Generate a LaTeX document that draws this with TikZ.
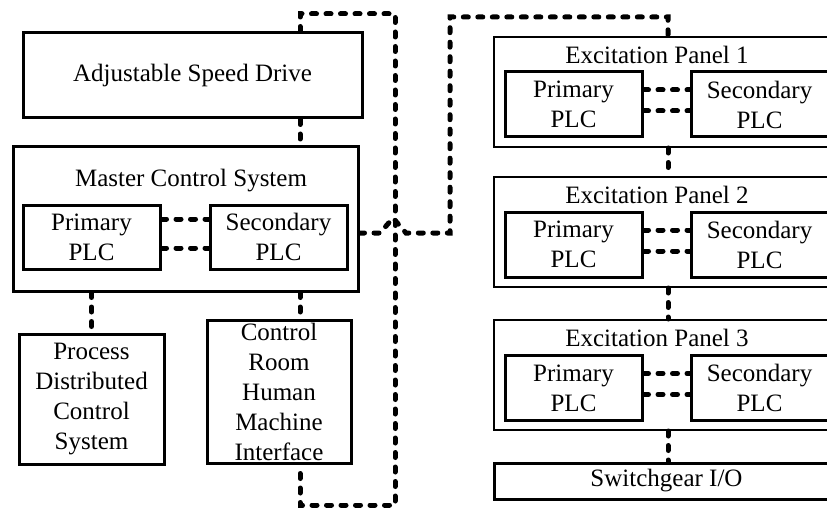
\documentclass[tikz,border=0pt]{standalone}
\usepackage{fontspec}
\setmainfont{Liberation Serif}
\begin{document}
\begin{tikzpicture}[x=1pt,y=-1pt,
  box/.style={draw,line width=3pt,inner sep=0pt,align=center,font=\fontsize{25}{30}\selectfont},
  panel/.style={draw,line width=2pt,inner sep=0pt},
  lbl/.style={inner sep=0pt,font=\fontsize{25}{30}\selectfont},
  plc/.style={box,minimum width=137pt,minimum height=65pt},
  link/.style={line width=5pt,dash pattern=on 5pt off 9.5pt,line cap=round}]
\useasboundingbox (0,0) rectangle (827,508);
\clip (0,0) rectangle (827,508);

% left column
\node[box,minimum width=339pt,minimum height=85pt] (asd) at (192.5,75.5) {Adjustable Speed Drive};
\node[panel,line width=3pt,minimum width=345pt,minimum height=144pt] (mcs) at (185.5,219) {};
\node[lbl] (mcst) at (191,181) {Master Control System};
\node[plc,minimum height=64pt] (mp) at (91.5,237) {Primary\\PLC};
\node[plc,minimum height=64pt] (ms) at (278.5,237) {Secondary\\PLC};
\node[box,minimum width=145pt,minimum height=130pt] (dcs) at (91.5,399) {Process\\Distributed\\Control\\System};
\node[box,minimum width=144pt,minimum height=143pt] (hmi) at (279,391.5) {Control\\Room\\Human\\Machine\\Interface};

\draw[link] ([yshift=18pt]mp.east) -- ([yshift=18pt]ms.west);
\draw[link] ([yshift=-11pt]mp.east) -- ([yshift=-11pt]ms.west);

% right column
\foreach \i/\py/\ty/\ly in {1/92/54.5/104.5, 2/232/194.5/244.5, 3/375/337.5/388} {
  \node[panel,minimum width=345pt,minimum height=110pt] (ep\i) at (666.5,\py) {};
  \node[lbl] (ept\i) at (657,\ty) {Excitation Panel \i};
  \node[plc] (epp\i) at (573.5,\ly) {Primary\\PLC};
  \node[plc] (eps\i) at (759.5,\ly) {Secondary\\PLC};
  \draw[link] ([yshift=14.5pt]epp\i.east) -- ([yshift=14.5pt]eps\i.west);
  \draw[link] ([yshift=-6.5pt]epp\i.east) -- ([yshift=-6.5pt]eps\i.west);
}
\node[box,minimum width=345pt,minimum height=36pt] (sw) at (666.5,481) {Switchgear I/O};

% connectors
\coordinate (a1) at (300,14);
\coordinate (a2) at (395,14);
\coordinate (a3) at (395,505);
\coordinate (a4) at (300,505);
\draw[link] (asd.north -| a1) -- (a1) -- (a2) -- (a3) -- (a4) -- (hmi.south -| a4);
\draw[link] (asd.south -| a1) -- (mcs.north -| a1);
\draw[link] (mcs.south -| dcs.north) -- (dcs.north);
\draw[link] (mcs.south -| a1) -- (hmi.north -| a1);

\coordinate (b0) at (380,233);
\coordinate (bh) at (393,218);
\coordinate (b1) at (406,233);
\coordinate (b2) at (450,233);
\coordinate (b3) at (450,17);
\coordinate (b4) at (668,17);
\draw[link] ([yshift=-14pt]mcs.east) -- (b0) -- (bh) -- (b1) -- (b2) -- (b3) -- (b4) -- (ep1.north -| b4);
\draw[link] (ep1.south -| b4) -- (ep2.north -| b4);
\draw[link] (ep2.south -| b4) -- (ep3.north -| b4);
\draw[link] (ep3.south -| b4) -- (sw.north -| b4);
\end{tikzpicture}
\end{document}
